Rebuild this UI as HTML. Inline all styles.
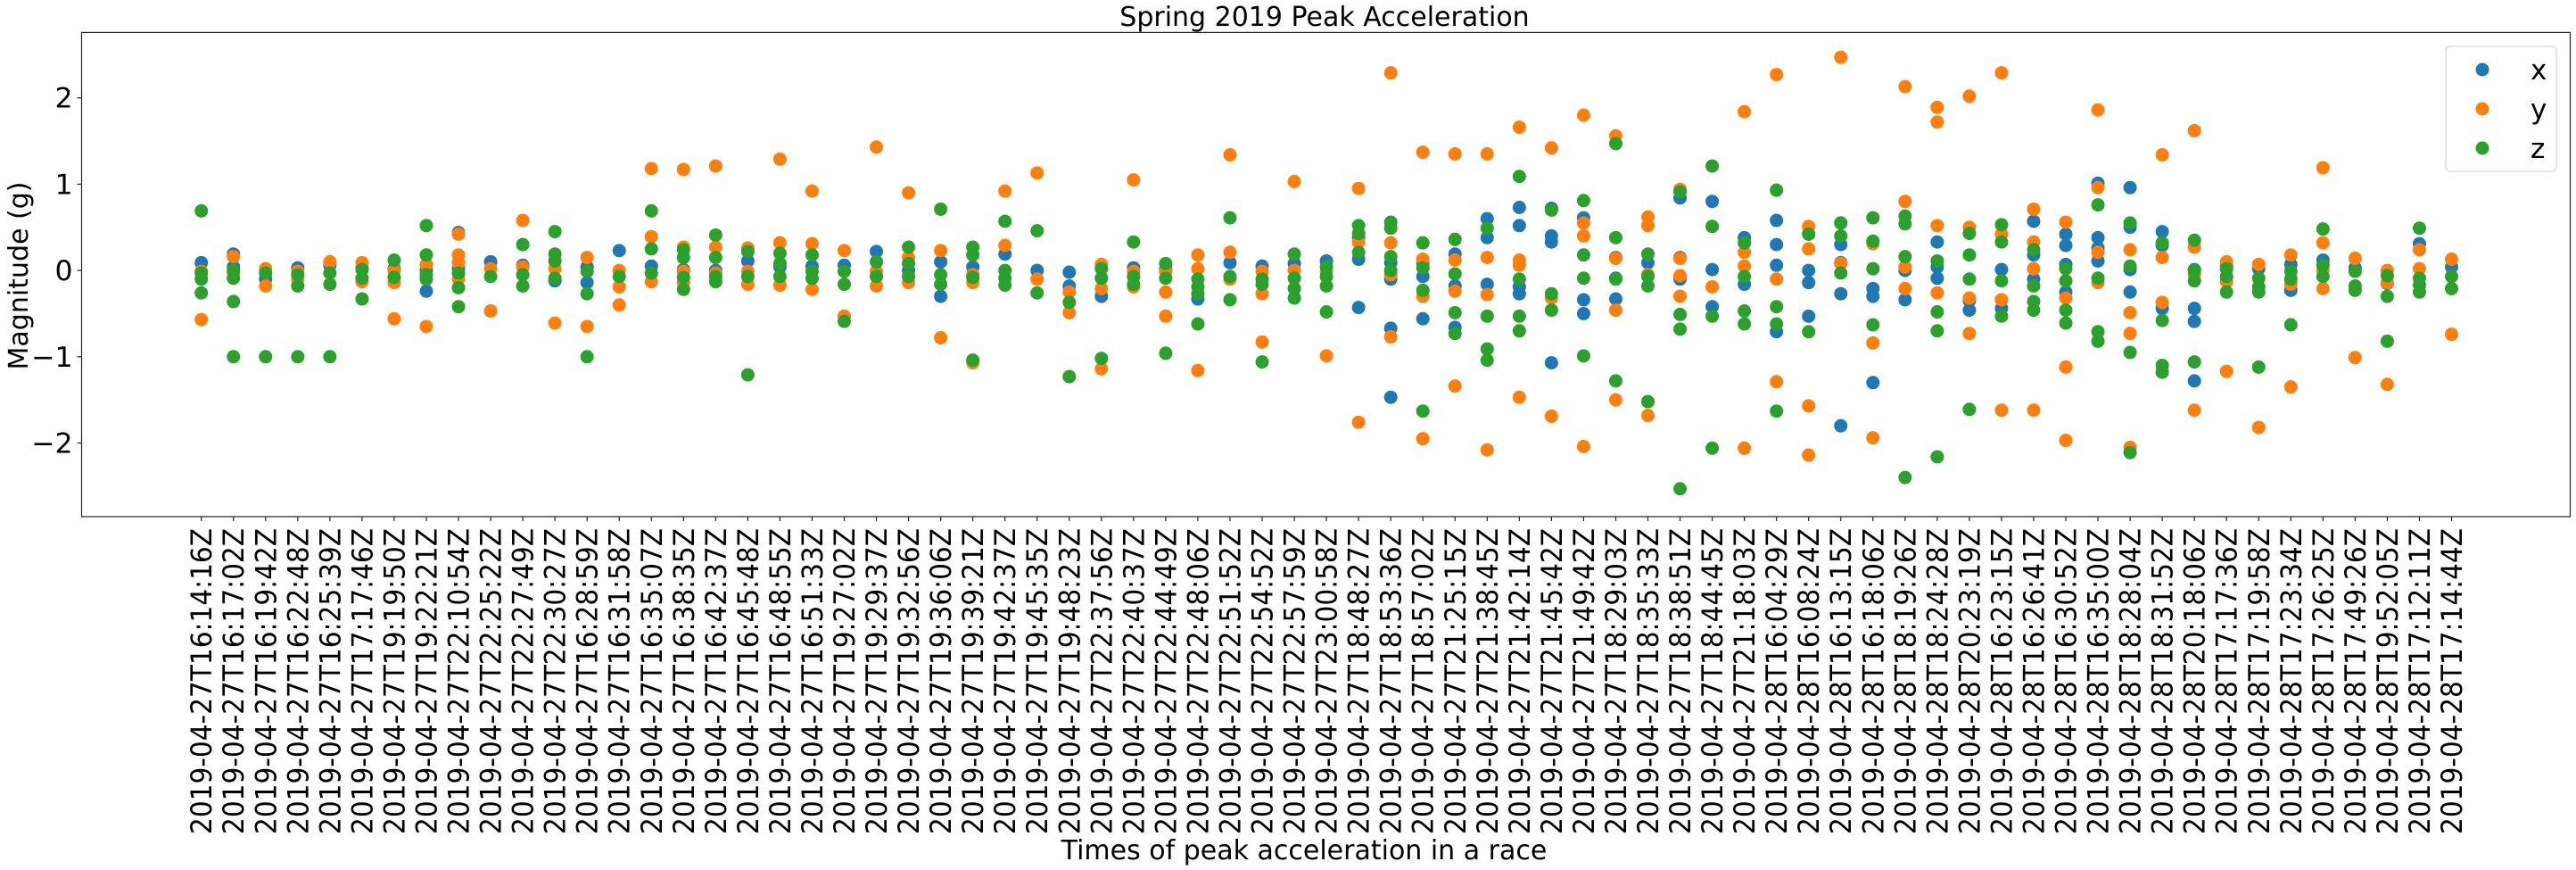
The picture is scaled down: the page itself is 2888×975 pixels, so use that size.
<!DOCTYPE html>
<html>
<head>
<meta charset="utf-8">
<style>
  html,body{margin:0;padding:0;background:#fff;}
  svg{display:block;font-family:"DejaVu Sans","Liberation Sans",sans-serif;}
</style>
</head>
<body>
<svg id="chart" width="2888" height="975" viewBox="0 0 2888 975" xmlns="http://www.w3.org/2000/svg">
  <rect x="0" y="0" width="2888" height="975" fill="#ffffff"/>
  <text x="1485" y="29" font-size="30" text-anchor="middle" fill="#000">Spring 2019 Peak Acceleration</text>
  <g id="yaxis"></g>
  <g id="xaxis"></g>
  <g id="marks"></g>
  <rect x="91.5" y="36.4" width="2790" height="542.6" fill="none" stroke="#222" stroke-width="1.2"/>
  <text transform="translate(31,309) rotate(-90)" font-size="30" text-anchor="middle" fill="#000">Magnitude (g)</text>
  <text x="1462" y="963" font-size="30" text-anchor="middle" fill="#000">Times of peak acceleration in a race</text>
  <g>
    <rect x="2742" y="52" width="124" height="140" rx="5" ry="5" fill="#fff" fill-opacity="0.8" stroke="#d6d6d6" stroke-width="1.2"/>
    <g>
      <circle cx="2783" cy="78" r="7.5" fill="#1f77b4"/>
      <text x="2837" y="89" font-size="31" fill="#000">x</text>
    </g>
    <g>
      <circle cx="2783" cy="122" r="7.5" fill="#ff7f0e"/>
      <text x="2837" y="133" font-size="31" fill="#000">y</text>
    </g>
    <g>
      <circle cx="2783" cy="166" r="7.5" fill="#2ca02c"/>
      <text x="2837" y="177" font-size="31" fill="#000">z</text>
    </g>
  </g>
</svg>
<script>
const categories = [
"2019-04-27T16:14:16Z","2019-04-27T16:17:02Z","2019-04-27T16:19:42Z","2019-04-27T16:22:48Z","2019-04-27T16:25:39Z",
"2019-04-27T17:17:46Z","2019-04-27T19:19:50Z","2019-04-27T19:22:21Z","2019-04-27T22:10:54Z","2019-04-27T22:25:22Z",
"2019-04-27T22:27:49Z","2019-04-27T22:30:27Z","2019-04-27T16:28:59Z","2019-04-27T16:31:58Z","2019-04-27T16:35:07Z",
"2019-04-27T16:38:35Z","2019-04-27T16:42:37Z","2019-04-27T16:45:48Z","2019-04-27T16:48:55Z","2019-04-27T16:51:33Z",
"2019-04-27T19:27:02Z","2019-04-27T19:29:37Z","2019-04-27T19:32:56Z","2019-04-27T19:36:06Z","2019-04-27T19:39:21Z",
"2019-04-27T19:42:37Z","2019-04-27T19:45:35Z","2019-04-27T19:48:23Z","2019-04-27T22:37:56Z","2019-04-27T22:40:37Z",
"2019-04-27T22:44:49Z","2019-04-27T22:48:06Z","2019-04-27T22:51:52Z","2019-04-27T22:54:52Z","2019-04-27T22:57:59Z",
"2019-04-27T23:00:58Z","2019-04-27T18:48:27Z","2019-04-27T18:53:36Z","2019-04-27T18:57:02Z","2019-04-27T21:25:15Z",
"2019-04-27T21:38:45Z","2019-04-27T21:42:14Z","2019-04-27T21:45:42Z","2019-04-27T21:49:42Z","2019-04-27T18:29:03Z",
"2019-04-27T18:35:33Z","2019-04-27T18:38:51Z","2019-04-27T18:44:45Z","2019-04-27T21:18:03Z","2019-04-28T16:04:29Z",
"2019-04-28T16:08:24Z","2019-04-28T16:13:15Z","2019-04-28T16:18:06Z","2019-04-28T18:19:26Z","2019-04-28T18:24:28Z",
"2019-04-28T20:23:19Z","2019-04-28T16:23:15Z","2019-04-28T16:26:41Z","2019-04-28T16:30:52Z","2019-04-28T16:35:00Z",
"2019-04-28T18:28:04Z","2019-04-28T18:31:52Z","2019-04-28T20:18:06Z","2019-04-28T17:17:36Z","2019-04-28T17:19:58Z",
"2019-04-28T17:23:34Z","2019-04-28T17:26:25Z","2019-04-28T17:49:26Z","2019-04-28T19:52:05Z","2019-04-28T17:12:11Z",
"2019-04-28T17:14:44Z"];

const xValues = [
[0.09],[0.19,0.04],[-0.1],[0.03],[0.06],[0.03],[0.02],[0.0,-0.24],[0.44,0.02],[0.1],
[0.06],[-0.12],[0.04,-0.14],[0.23],[0.05],[0.01],[0.0],[0.11],[0.04],[0.05],
[0.06],[0.22],[0.0],[0.1,-0.3],[0.04],[0.19],[0.0],[-0.02,-0.18],[-0.3],[0.03],
[0.02],[-0.33],[0.09],[0.05],[0.08],[0.11],[0.38,0.13,-0.43],[0.09,-0.1,-0.67,-1.47],[0.09,-0.07,-0.56],[0.19,-0.18,-0.66],
[0.6,0.38,-0.16],[0.73,0.52,-0.19,-0.27],[0.72,0.4,0.33,-1.07],[0.61,-0.34,-0.5],[0.15,-0.09,-0.33],[0.09],[0.84,0.15,-0.1],[0.8,0.01,-0.42],[0.38,-0.16],[0.58,0.3,0.06,-0.71],
[0.0,-0.14,-0.53],[0.3,0.09,-0.27,-1.8],[-0.21,-0.3,-1.3],[0.0,-0.34],[0.33,0.04,-0.09],[-0.35,-0.46],[0.01,-0.44],[0.57,0.18,-0.1],[0.42,0.29,0.07,-0.25],[1.01,0.38,0.26,0.11],
[0.96,0.5,0.01,-0.25],[0.45,0.29,-0.44],[0.01,-0.44,-0.59,-1.28],[0.05],[0.02],[0.07,-0.23],[0.12],[0.03],[-0.15],[0.31],
[0.04]];

const yValues = [
[-0.01,-0.57],[0.16,-0.03],[0.02,-0.18],[-0.01,-0.1],[0.1],[0.09,-0.13],[0.0,-0.14,-0.56],[0.07,-0.65],[0.42,0.18,0.09,-0.1],[0.02,-0.47],
[0.58,0.04],[0.02,-0.61],[0.15,-0.65],[0.0,-0.19,-0.4],[1.18,0.39,-0.13],[1.17,0.27,-0.01,-0.14],[1.21,0.27,-0.03],[0.26,-0.01,-0.16],[1.29,0.32,-0.17],[0.92,0.31,-0.22],
[0.23,-0.53],[1.43,-0.01,-0.18],[0.9,0.15,-0.14],[0.23,-0.78],[-0.05,-0.14,-1.07],[0.92,0.29],[1.13,-0.1],[-0.25,-0.49],[0.07,-0.21,-1.14],[1.05,-0.01,-0.19],
[-0.01,-0.25,-0.53],[0.18,0.02,-1.16],[1.34,0.21,-0.1],[-0.01,-0.27,-0.83],[1.03,0.0],[-0.01,-0.99],[0.95,0.33,-1.76],[2.29,0.32,-0.05,-0.77],[1.37,0.13,-0.3,-1.95],[1.35,0.12,-0.24,-1.34],
[1.35,0.15,-0.28,-2.08],[1.66,0.12,0.06,-1.47],[1.42,-0.32,-1.69],[1.8,0.55,0.4,-2.04],[1.56,0.14,-0.46,-1.5],[0.62,0.52,-0.05,-1.68],[0.94,0.14,-0.06,-0.3],[-0.19],[1.84,0.21,0.05,-2.06],[2.27,-0.1,-1.29],
[0.51,0.25,-1.57,-2.14],[2.47,0.08],[0.31,-0.84,-1.94],[2.13,0.8,0.04,-0.21],[1.89,1.72,0.52,-0.26],[2.02,0.5,-0.32,-0.73],[2.29,0.42,-0.34,-1.62],[0.71,0.33,0.02,-1.62],[0.56,-0.32,-1.12,-1.97],[1.86,0.96,0.21,-0.14],
[0.24,-0.49,-0.73,-2.05],[1.34,0.15,-0.37],[1.62,0.27,-0.05,-1.62],[0.1,-0.13,-1.17],[0.07,-1.82],[0.18,-0.16,-1.35],[1.19,0.32,0.0,-0.21],[0.14,-1.01],[0.0,-0.14,-1.32],[0.24,0.02],
[0.13,-0.74]];

const zValues = [
[0.69,-0.03,-0.1,-0.26],[0.0,-0.09,-0.36,-1.0],[-0.03,-1.0],[-0.05,-0.18,-1.0],[-0.03,-0.16,-1.0],[0.01,-0.09,-0.33],[0.12,-0.08],[0.52,0.18,-0.05,-0.1],[-0.03,-0.2,-0.42],[-0.07],
[0.3,-0.05,-0.18],[0.45,0.19,0.11,-0.09],[-0.01,-0.27,-1.0],[-0.07],[0.69,0.25,-0.03],[0.24,0.15,-0.08,-0.22],[0.41,0.15,-0.07,-0.13],[0.22,-0.07,-1.21],[0.2,0.08,-0.07],[0.18,-0.01,-0.09],
[-0.01,-0.16,-0.59],[0.1,-0.07],[0.27,0.08,-0.07],[0.71,-0.05,-0.16],[0.27,0.18,-0.08,-1.04],[0.57,0.0,-0.09,-0.17],[0.46,-0.26],[-0.37,-1.23],[0.02,-0.09,-1.02],[0.33,-0.07,-0.16],
[0.08,-0.09,-0.96],[-0.1,-0.19,-0.27,-0.62],[0.61,-0.07,-0.34],[-0.1,-0.16,-1.06],[0.19,-0.09,-0.21,-0.32],[0.04,-0.07,-0.18,-0.48],[0.52,0.43,0.21],[0.56,0.49,0.16,0.0],[0.32,0.03,-0.23,-1.63],[0.36,-0.04,-0.49,-0.73],
[0.49,-0.53,-0.91,-1.04],[1.09,-0.1,-0.53,-0.7],[0.7,-0.27,-0.46],[0.81,0.18,-0.09,-0.99],[1.47,0.38,-0.1,-1.28],[0.19,-0.07,-0.18,-1.52],[0.91,-0.51,-0.68,-2.53],[1.21,0.51,-0.53,-2.06],[0.32,-0.07,-0.47,-0.62],[0.93,-0.42,-0.62,-1.63],
[0.42,-0.71],[0.55,0.4,-0.03],[0.61,0.34,0.02,-0.63],[0.63,0.54,0.16,-2.4],[0.11,-0.48,-0.7,-2.16],[0.43,0.18,-0.1,-1.61],[0.53,0.33,-0.12,-0.53],[0.24,-0.18,-0.36,-0.46],[0.02,-0.12,-0.46,-0.61],[0.76,-0.09,-0.71,-0.82],
[0.55,0.05,-0.95,-2.11],[0.32,-0.58,-1.1,-1.18],[0.35,0.0,-0.12,-1.06],[0.02,-0.07,-0.25],[-0.09,-0.19,-0.25,-1.12],[-0.01,-0.1,-0.63],[0.48,0.06,-0.07],[-0.01,-0.18,-0.23],[-0.06,-0.3,-0.82],[0.49,-0.09,-0.17,-0.25],
[-0.07,-0.21]];

const yTicks = [-2, -1, 0, 1, 2];
const seriesNames = ["x", "y", "z"];
const seriesColors = ["#1f77b4", "#ff7f0e", "#2ca02c"];

const NS = "http://www.w3.org/2000/svg";
const plotLeft = 91.5, plotRight = 2881.5, plotTop = 36.4, plotBottom = 579;
const x0 = 225.7, xStep = 36.04;
const zeroY = 303.1, unitY = 96.7;
function xScale(i){ return x0 + i * xStep; }
function yScale(v){ return zeroY - v * unitY; }

function mk(tag, attrs){
  const el = document.createElementNS(NS, tag);
  for (const k in attrs) el.setAttribute(k, attrs[k]);
  return el;
}

const yAxis = document.getElementById("yaxis");
yTicks.forEach(function(t){
  const y = yScale(t);
  const tick = mk("line", {x1: plotLeft - 5, x2: plotLeft, y1: y, y2: y, stroke: "#222", "stroke-width": 1.2});
  
  
  yAxis.appendChild(tick);
  const lbl = mk("text", {x: plotLeft - 10, y: y + 11, "font-size": 31.5, "text-anchor": "end", fill: "#000"});
  lbl.textContent = t < 0 ? "\u2212" + Math.abs(t) : String(t);
  
  
  yAxis.appendChild(lbl);
});

const xAxis = document.getElementById("xaxis");
categories.forEach(function(c, i){
  const x = xScale(i);
  const tick = mk("line", {x1: x, x2: x, y1: plotBottom, y2: plotBottom + 5, stroke: "#222", "stroke-width": 1.2});
  
  
  xAxis.appendChild(tick);
  const lbl = mk("text", {transform: "translate(" + (x + 11.5) + "," + 592 + ") rotate(-90)", "font-size": 32, "text-anchor": "end", fill: "#000", textLength: 343, lengthAdjust: "spacingAndGlyphs"});
  lbl.textContent = c;
  
  
  xAxis.appendChild(lbl);
});

const marks = document.getElementById("marks");
[xValues, yValues, zValues].forEach(function(series, s){
  const g = mk("g", {fill: seriesColors[s]});
  
  
  series.forEach(function(vals, i){
    vals.forEach(function(v){
      const c = mk("circle", {cx: xScale(i), cy: yScale(v), r: 7.5});
      
      
      g.appendChild(c);
    });
  });
  marks.appendChild(g);
});
</script>
</body>
</html>
